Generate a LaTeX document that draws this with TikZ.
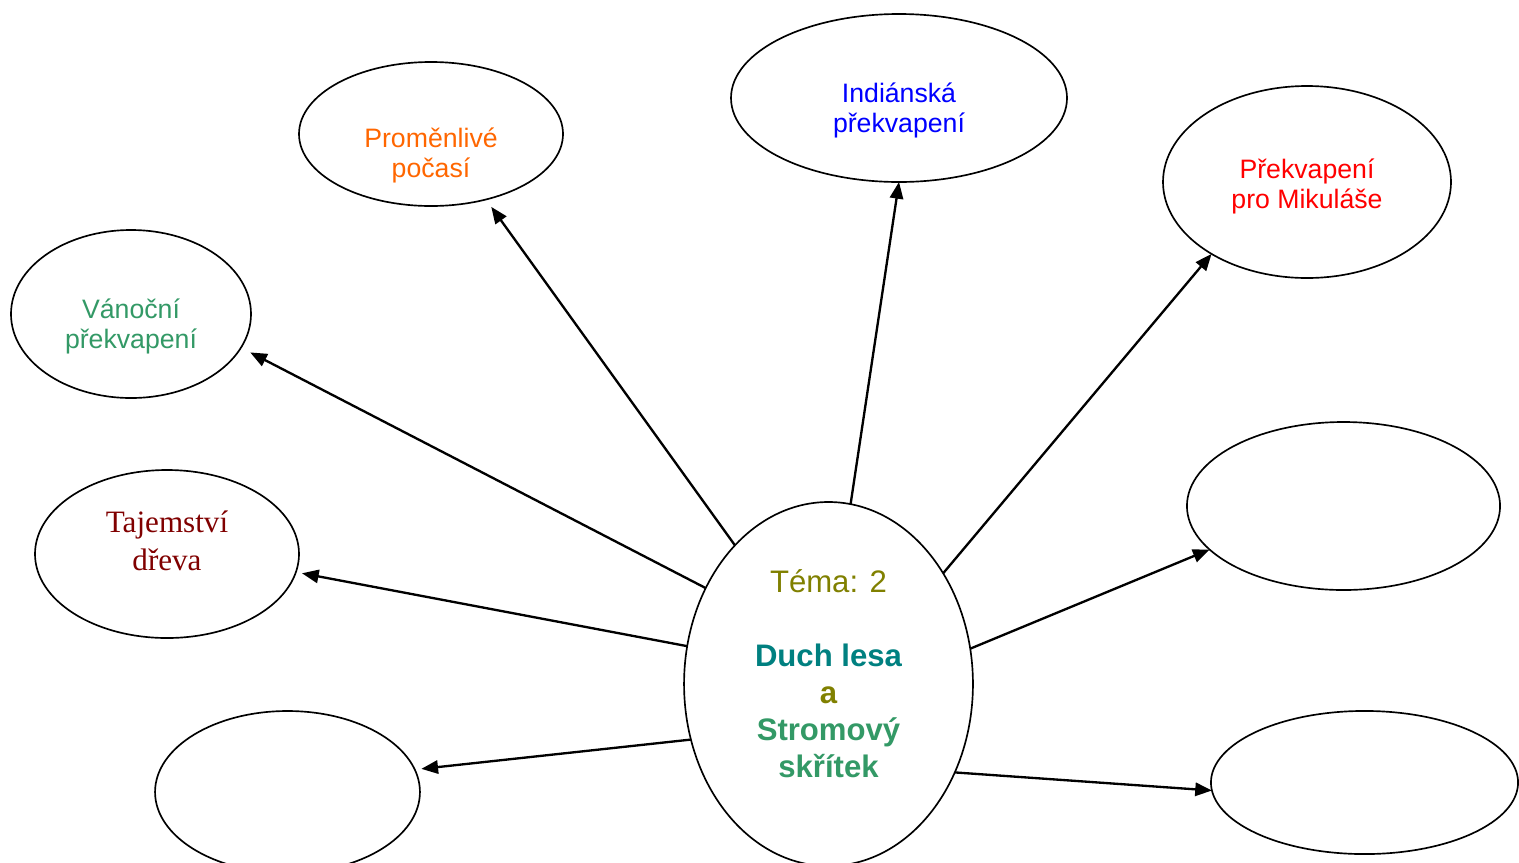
\documentclass[tikz,border=0pt]{standalone}
\usepackage{fontspec}
\setmainfont{Liberation Sans}
\newfontfamily\timesfont{Liberation Serif}
\usetikzlibrary{shapes.geometric,arrows.meta}
\definecolor{olivetxt}{RGB}{128,128,0}
\definecolor{tealtxt}{RGB}{0,128,128}
\definecolor{greentxt}{RGB}{51,153,102}
\definecolor{orangetxt}{RGB}{255,102,0}
\definecolor{darkredtxt}{RGB}{128,0,0}

\begin{document}
\begin{tikzpicture}[x=0.45pt, y=-0.45pt,
    bub/.style={draw, ellipse, line width=0.75pt, inner sep=0pt, outer sep=0pt},
    txt/.style={align=center, font=\fontsize{12}{13.5}\selectfont},
    link/.style={line width=1.05pt, -{Triangle[length=7.5pt,width=6pt]}}]
  \useasboundingbox (0,0) rectangle (1519,862);

  % Theme in the middle
  \node[bub, minimum width=130pt, minimum height=163.8pt,
    label={[align=center, font=\fontsize{14}{16.7}\selectfont, yshift=4.7pt]center:{%
      \textcolor{olivetxt}{Téma: 2}\\[16.7pt]
      \textbf{\textcolor{tealtxt}{Duch lesa}}\\
      \textbf{\textcolor{olivetxt}{a}}\\
      \textbf{\textcolor{greentxt}{Stromový}}\\
      \textbf{\textcolor{greentxt}{skřítek}}}}] (tema) at (828.5,684) {};

  % Topics round it
  \node[bub, minimum width=118.8pt, minimum height=64.8pt,
    label={[txt, text=orangetxt, yshift=-9.5pt]center:{Proměnlivé\\počasí}}] (pocasi) at (431,134) {};
  \node[bub, minimum width=151.2pt, minimum height=75.6pt,
    label={[txt, text=blue, yshift=-5.4pt]center:{Indiánská\\překvapení}}] (indiani) at (899,98) {};
  \node[bub, minimum width=129.6pt, minimum height=86.4pt,
    label={[txt, text=red, yshift=-2pt]center:{Překvapení\\pro Mikuláše}}] (mikulas) at (1307,182) {};
  \node[bub, minimum width=108pt, minimum height=75.6pt,
    label={[txt, text=greentxt, yshift=-5.4pt]center:{Vánoční\\překvapení}}] (vanoce) at (131,314) {};
  \node[bub, minimum width=118.8pt, minimum height=75.6pt,
    label={[align=center, text=darkredtxt, font=\timesfont\fontsize{14}{17}\selectfont, yshift=5.9pt]center:{Tajemství\\dřeva}}] (drevo) at (167,554) {};

  % Empty ones
  \node[bub, minimum width=119.2pt, minimum height=72.9pt] (prazdny1) at (287.5,792) {};
  \node[bub, minimum width=140.9pt, minimum height=75.6pt] (prazdny2) at (1343.5,506) {};
  \node[bub, minimum width=138.2pt, minimum height=64.4pt] (prazdny3) at (1364.5,782.5) {};

  % Arrows
  \draw[link, shorten >=4.7pt] (tema.142.3) -- (vanoce.-17);
  \draw[link, shorten >=4.1pt] (tema.124.7) -- (pocasi.-50);
  \draw[link] (tema.83.2) -- (indiani.south);
  \draw[link] (tema.44.6) -- (mikulas.217.6);
  \draw[link] (tema.14.6) -- (prazdny2.198.8);
  \draw[link] (tema.-35) -- (prazdny3.183.2);
  \draw[link, shorten >=2.8pt] (tema.165.6) -- (drevo.-8.9);
  \draw[link, shorten >=3pt] (tema.202.2) -- (prazdny1.10.6);
\end{tikzpicture}
\end{document}
